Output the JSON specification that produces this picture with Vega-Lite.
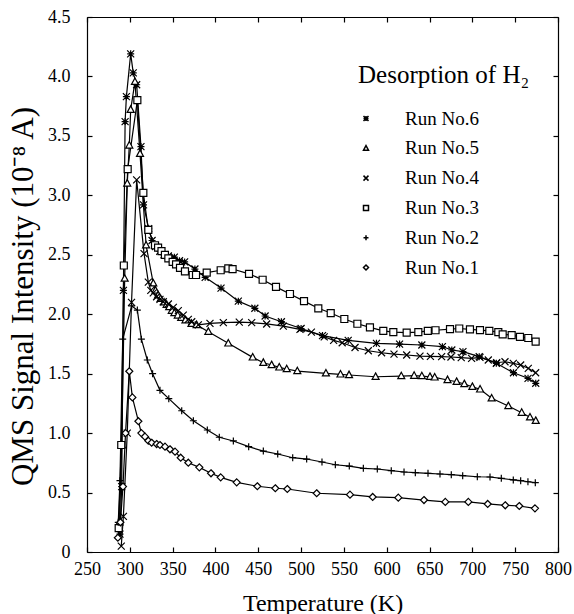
{
  "$schema": "https://vega.github.io/schema/vega-lite/v6.json",
  "width": 471,
  "height": 535,
  "autosize": "none",
  "padding": {"left": 87, "top": 17, "right": 16, "bottom": 62},
  "background": "white",
  "config": {
    "font": "Liberation Serif",
    "view": {"stroke": null},
    "axis": {"grid": false, "domainColor": "black", "domainWidth": 1.2, "tickColor": "black", "tickWidth": 1.2, "labelColor": "black", "titleColor": "black", "labelFont": "Liberation Serif", "titleFont": "Liberation Serif"},
    "legend": {"labelFont": "Liberation Serif", "titleFont": "Liberation Serif", "labelColor": "black", "titleColor": "black"}
  },
  "data": {"values": [
    {"run": "Run No.6", "T": 288.5, "I": 0.15}, {"run": "Run No.6", "T": 290.5, "I": 0.55}, {"run": "Run No.6", "T": 292.5, "I": 2.2}, {"run": "Run No.6", "T": 294.5, "I": 3.62}, {"run": "Run No.6", "T": 296, "I": 3.83}, {"run": "Run No.6", "T": 301, "I": 4.19}, {"run": "Run No.6", "T": 304, "I": 4.03}, {"run": "Run No.6", "T": 308, "I": 3.93}, {"run": "Run No.6", "T": 313, "I": 3.41}, {"run": "Run No.6", "T": 316, "I": 2.92}, {"run": "Run No.6", "T": 322, "I": 2.72}, {"run": "Run No.6", "T": 326, "I": 2.62}, {"run": "Run No.6", "T": 330, "I": 2.57}, {"run": "Run No.6", "T": 335, "I": 2.53}, {"run": "Run No.6", "T": 340, "I": 2.5}, {"run": "Run No.6", "T": 345, "I": 2.49}, {"run": "Run No.6", "T": 352, "I": 2.48}, {"run": "Run No.6", "T": 358, "I": 2.45}, {"run": "Run No.6", "T": 364, "I": 2.44}, {"run": "Run No.6", "T": 376, "I": 2.38}, {"run": "Run No.6", "T": 388, "I": 2.31}, {"run": "Run No.6", "T": 406.5, "I": 2.22}, {"run": "Run No.6", "T": 426.7, "I": 2.11}, {"run": "Run No.6", "T": 446, "I": 2.05}, {"run": "Run No.6", "T": 458, "I": 1.985}, {"run": "Run No.6", "T": 477, "I": 1.937}, {"run": "Run No.6", "T": 500, "I": 1.88}, {"run": "Run No.6", "T": 525, "I": 1.82}, {"run": "Run No.6", "T": 555, "I": 1.78}, {"run": "Run No.6", "T": 588, "I": 1.755}, {"run": "Run No.6", "T": 615, "I": 1.749}, {"run": "Run No.6", "T": 641, "I": 1.741}, {"run": "Run No.6", "T": 665, "I": 1.727}, {"run": "Run No.6", "T": 676, "I": 1.699}, {"run": "Run No.6", "T": 689, "I": 1.685}, {"run": "Run No.6", "T": 708, "I": 1.643}, {"run": "Run No.6", "T": 728, "I": 1.587}, {"run": "Run No.6", "T": 748, "I": 1.508}, {"run": "Run No.6", "T": 765, "I": 1.461}, {"run": "Run No.6", "T": 774, "I": 1.419},

    {"run": "Run No.5", "T": 288, "I": 0.25}, {"run": "Run No.5", "T": 290.5, "I": 0.9}, {"run": "Run No.5", "T": 294, "I": 2.3}, {"run": "Run No.5", "T": 297, "I": 3.1}, {"run": "Run No.5", "T": 299.4, "I": 3.42}, {"run": "Run No.5", "T": 301, "I": 3.72}, {"run": "Run No.5", "T": 306, "I": 3.955}, {"run": "Run No.5", "T": 311.9, "I": 3.35}, {"run": "Run No.5", "T": 319, "I": 2.58}, {"run": "Run No.5", "T": 327.4, "I": 2.26}, {"run": "Run No.5", "T": 330, "I": 2.2}, {"run": "Run No.5", "T": 333, "I": 2.16}, {"run": "Run No.5", "T": 336, "I": 2.13}, {"run": "Run No.5", "T": 340, "I": 2.1}, {"run": "Run No.5", "T": 343, "I": 2.08}, {"run": "Run No.5", "T": 346, "I": 2.06}, {"run": "Run No.5", "T": 349, "I": 2.03}, {"run": "Run No.5", "T": 352, "I": 2.01}, {"run": "Run No.5", "T": 356, "I": 1.99}, {"run": "Run No.5", "T": 360, "I": 1.97}, {"run": "Run No.5", "T": 365, "I": 1.95}, {"run": "Run No.5", "T": 372, "I": 1.92}, {"run": "Run No.5", "T": 378, "I": 1.91}, {"run": "Run No.5", "T": 391.7, "I": 1.853}, {"run": "Run No.5", "T": 415, "I": 1.755}, {"run": "Run No.5", "T": 443.5, "I": 1.637}, {"run": "Run No.5", "T": 455.9, "I": 1.592}, {"run": "Run No.5", "T": 465.6, "I": 1.573}, {"run": "Run No.5", "T": 474.5, "I": 1.553}, {"run": "Run No.5", "T": 483.2, "I": 1.539}, {"run": "Run No.5", "T": 495.6, "I": 1.522}, {"run": "Run No.5", "T": 529, "I": 1.503}, {"run": "Run No.5", "T": 546, "I": 1.494}, {"run": "Run No.5", "T": 556, "I": 1.489}, {"run": "Run No.5", "T": 587, "I": 1.474}, {"run": "Run No.5", "T": 617, "I": 1.48}, {"run": "Run No.5", "T": 632, "I": 1.483}, {"run": "Run No.5", "T": 641, "I": 1.48}, {"run": "Run No.5", "T": 650.5, "I": 1.474}, {"run": "Run No.5", "T": 656, "I": 1.469}, {"run": "Run No.5", "T": 671, "I": 1.447}, {"run": "Run No.5", "T": 681.6, "I": 1.432}, {"run": "Run No.5", "T": 690.6, "I": 1.413}, {"run": "Run No.5", "T": 700, "I": 1.39}, {"run": "Run No.5", "T": 709, "I": 1.368}, {"run": "Run No.5", "T": 722.5, "I": 1.293}, {"run": "Run No.5", "T": 742, "I": 1.228}, {"run": "Run No.5", "T": 757.6, "I": 1.172}, {"run": "Run No.5", "T": 767.3, "I": 1.133}, {"run": "Run No.5", "T": 774, "I": 1.104},

    {"run": "Run No.4", "T": 290, "I": 0.05}, {"run": "Run No.4", "T": 292.5, "I": 0.3}, {"run": "Run No.4", "T": 297, "I": 1.0}, {"run": "Run No.4", "T": 302, "I": 2.1}, {"run": "Run No.4", "T": 308, "I": 3.13}, {"run": "Run No.4", "T": 316.6, "I": 2.51}, {"run": "Run No.4", "T": 321.6, "I": 2.27}, {"run": "Run No.4", "T": 324.5, "I": 2.2}, {"run": "Run No.4", "T": 327.4, "I": 2.18}, {"run": "Run No.4", "T": 331.3, "I": 2.147}, {"run": "Run No.4", "T": 335.2, "I": 2.125}, {"run": "Run No.4", "T": 339.1, "I": 2.105}, {"run": "Run No.4", "T": 345, "I": 2.086}, {"run": "Run No.4", "T": 350.8, "I": 2.058}, {"run": "Run No.4", "T": 356.6, "I": 2.03}, {"run": "Run No.4", "T": 362.4, "I": 1.993}, {"run": "Run No.4", "T": 368.3, "I": 1.957}, {"run": "Run No.4", "T": 372.3, "I": 1.937}, {"run": "Run No.4", "T": 380, "I": 1.91}, {"run": "Run No.4", "T": 393.6, "I": 1.923}, {"run": "Run No.4", "T": 409.2, "I": 1.929}, {"run": "Run No.4", "T": 427.8, "I": 1.934}, {"run": "Run No.4", "T": 442.3, "I": 1.929}, {"run": "Run No.4", "T": 459.8, "I": 1.918}, {"run": "Run No.4", "T": 479.2, "I": 1.9}, {"run": "Run No.4", "T": 498.7, "I": 1.873}, {"run": "Run No.4", "T": 512, "I": 1.85}, {"run": "Run No.4", "T": 527, "I": 1.81}, {"run": "Run No.4", "T": 538, "I": 1.78}, {"run": "Run No.4", "T": 548, "I": 1.76}, {"run": "Run No.4", "T": 563, "I": 1.72}, {"run": "Run No.4", "T": 578.5, "I": 1.693}, {"run": "Run No.4", "T": 594, "I": 1.676}, {"run": "Run No.4", "T": 608.5, "I": 1.665}, {"run": "Run No.4", "T": 623.3, "I": 1.657}, {"run": "Run No.4", "T": 638.8, "I": 1.648}, {"run": "Run No.4", "T": 651, "I": 1.645}, {"run": "Run No.4", "T": 664.1, "I": 1.643}, {"run": "Run No.4", "T": 675, "I": 1.64}, {"run": "Run No.4", "T": 687, "I": 1.635}, {"run": "Run No.4", "T": 699.1, "I": 1.629}, {"run": "Run No.4", "T": 708.9, "I": 1.637}, {"run": "Run No.4", "T": 718.6, "I": 1.615}, {"run": "Run No.4", "T": 728.4, "I": 1.592}, {"run": "Run No.4", "T": 738.1, "I": 1.6}, {"run": "Run No.4", "T": 747.8, "I": 1.587}, {"run": "Run No.4", "T": 756.4, "I": 1.573}, {"run": "Run No.4", "T": 765.3, "I": 1.545}, {"run": "Run No.4", "T": 773.9, "I": 1.508},

    {"run": "Run No.3", "T": 287, "I": 0.2}, {"run": "Run No.3", "T": 290, "I": 0.9}, {"run": "Run No.3", "T": 293, "I": 2.41}, {"run": "Run No.3", "T": 297.5, "I": 3.22}, {"run": "Run No.3", "T": 308.8, "I": 3.8}, {"run": "Run No.3", "T": 315.8, "I": 3.02}, {"run": "Run No.3", "T": 321.6, "I": 2.71}, {"run": "Run No.3", "T": 329.4, "I": 2.58}, {"run": "Run No.3", "T": 333, "I": 2.56}, {"run": "Run No.3", "T": 337, "I": 2.53}, {"run": "Run No.3", "T": 341, "I": 2.5}, {"run": "Run No.3", "T": 345, "I": 2.47}, {"run": "Run No.3", "T": 350, "I": 2.44}, {"run": "Run No.3", "T": 354, "I": 2.42}, {"run": "Run No.3", "T": 358.6, "I": 2.39}, {"run": "Run No.3", "T": 364.4, "I": 2.36}, {"run": "Run No.3", "T": 373.4, "I": 2.33}, {"run": "Run No.3", "T": 377.3, "I": 2.33}, {"run": "Run No.3", "T": 389.8, "I": 2.35}, {"run": "Run No.3", "T": 406.1, "I": 2.37}, {"run": "Run No.3", "T": 415, "I": 2.386}, {"run": "Run No.3", "T": 420, "I": 2.38}, {"run": "Run No.3", "T": 439.2, "I": 2.34}, {"run": "Run No.3", "T": 455.1, "I": 2.29}, {"run": "Run No.3", "T": 470.7, "I": 2.23}, {"run": "Run No.3", "T": 487, "I": 2.17}, {"run": "Run No.3", "T": 503.4, "I": 2.11}, {"run": "Run No.3", "T": 520.1, "I": 2.05}, {"run": "Run No.3", "T": 534.6, "I": 2.01}, {"run": "Run No.3", "T": 550.5, "I": 1.96}, {"run": "Run No.3", "T": 565.7, "I": 1.92}, {"run": "Run No.3", "T": 580.4, "I": 1.89}, {"run": "Run No.3", "T": 596, "I": 1.86}, {"run": "Run No.3", "T": 607.7, "I": 1.85}, {"run": "Run No.3", "T": 623.3, "I": 1.845}, {"run": "Run No.3", "T": 636.9, "I": 1.85}, {"run": "Run No.3", "T": 648, "I": 1.86}, {"run": "Run No.3", "T": 657, "I": 1.865}, {"run": "Run No.3", "T": 673.9, "I": 1.875}, {"run": "Run No.3", "T": 684.7, "I": 1.88}, {"run": "Run No.3", "T": 697.2, "I": 1.873}, {"run": "Run No.3", "T": 708.9, "I": 1.867}, {"run": "Run No.3", "T": 719.8, "I": 1.86}, {"run": "Run No.3", "T": 730.3, "I": 1.85}, {"run": "Run No.3", "T": 735.4, "I": 1.83}, {"run": "Run No.3", "T": 745.9, "I": 1.825}, {"run": "Run No.3", "T": 755.6, "I": 1.81}, {"run": "Run No.3", "T": 765.3, "I": 1.8}, {"run": "Run No.3", "T": 773.9, "I": 1.77},

    {"run": "Run No.2", "T": 286.5, "I": 0.25}, {"run": "Run No.2", "T": 288.5, "I": 0.6}, {"run": "Run No.2", "T": 291.7, "I": 1.79}, {"run": "Run No.2", "T": 302.2, "I": 2.07}, {"run": "Run No.2", "T": 308.8, "I": 2.035}, {"run": "Run No.2", "T": 313.5, "I": 1.79}, {"run": "Run No.2", "T": 320.4, "I": 1.615}, {"run": "Run No.2", "T": 326.6, "I": 1.5}, {"run": "Run No.2", "T": 335.2, "I": 1.36}, {"run": "Run No.2", "T": 345.5, "I": 1.29}, {"run": "Run No.2", "T": 360.6, "I": 1.188}, {"run": "Run No.2", "T": 374.2, "I": 1.104}, {"run": "Run No.2", "T": 390.5, "I": 1.026}, {"run": "Run No.2", "T": 404.5, "I": 0.965}, {"run": "Run No.2", "T": 420.9, "I": 0.934}, {"run": "Run No.2", "T": 438.8, "I": 0.886}, {"run": "Run No.2", "T": 455.9, "I": 0.849}, {"run": "Run No.2", "T": 472.7, "I": 0.824}, {"run": "Run No.2", "T": 490.2, "I": 0.793}, {"run": "Run No.2", "T": 506.5, "I": 0.782}, {"run": "Run No.2", "T": 524.4, "I": 0.757}, {"run": "Run No.2", "T": 540, "I": 0.734}, {"run": "Run No.2", "T": 556.3, "I": 0.723}, {"run": "Run No.2", "T": 572.7, "I": 0.704}, {"run": "Run No.2", "T": 589, "I": 0.698}, {"run": "Run No.2", "T": 605.3, "I": 0.684}, {"run": "Run No.2", "T": 620.2, "I": 0.673}, {"run": "Run No.2", "T": 633.4, "I": 0.667}, {"run": "Run No.2", "T": 648.2, "I": 0.662}, {"run": "Run No.2", "T": 662.2, "I": 0.656}, {"run": "Run No.2", "T": 675.4, "I": 0.65}, {"run": "Run No.2", "T": 688.7, "I": 0.642}, {"run": "Run No.2", "T": 705.8, "I": 0.633}, {"run": "Run No.2", "T": 720.6, "I": 0.631}, {"run": "Run No.2", "T": 733.8, "I": 0.62}, {"run": "Run No.2", "T": 747.8, "I": 0.606}, {"run": "Run No.2", "T": 756.4, "I": 0.6}, {"run": "Run No.2", "T": 764.9, "I": 0.591}, {"run": "Run No.2", "T": 773.5, "I": 0.583},

    {"run": "Run No.1", "T": 286, "I": 0.12}, {"run": "Run No.1", "T": 289, "I": 0.25}, {"run": "Run No.1", "T": 292, "I": 0.55}, {"run": "Run No.1", "T": 295, "I": 1.0}, {"run": "Run No.1", "T": 299.4, "I": 1.52}, {"run": "Run No.1", "T": 303, "I": 1.3}, {"run": "Run No.1", "T": 310, "I": 1.1}, {"run": "Run No.1", "T": 313.5, "I": 1.0}, {"run": "Run No.1", "T": 317.7, "I": 0.97}, {"run": "Run No.1", "T": 321.6, "I": 0.936}, {"run": "Run No.1", "T": 325.5, "I": 0.919}, {"run": "Run No.1", "T": 331.3, "I": 0.908}, {"run": "Run No.1", "T": 335.2, "I": 0.9}, {"run": "Run No.1", "T": 341.1, "I": 0.886}, {"run": "Run No.1", "T": 346.9, "I": 0.864}, {"run": "Run No.1", "T": 352.8, "I": 0.844}, {"run": "Run No.1", "T": 359.4, "I": 0.793}, {"run": "Run No.1", "T": 368.3, "I": 0.751}, {"run": "Run No.1", "T": 381.2, "I": 0.712}, {"run": "Run No.1", "T": 394.8, "I": 0.662}, {"run": "Run No.1", "T": 406.1, "I": 0.628}, {"run": "Run No.1", "T": 424.8, "I": 0.586}, {"run": "Run No.1", "T": 448.9, "I": 0.553}, {"run": "Run No.1", "T": 469.9, "I": 0.536}, {"run": "Run No.1", "T": 483.9, "I": 0.53}, {"run": "Run No.1", "T": 518.2, "I": 0.494}, {"run": "Run No.1", "T": 557.1, "I": 0.482}, {"run": "Run No.1", "T": 583.6, "I": 0.463}, {"run": "Run No.1", "T": 613.5, "I": 0.457}, {"run": "Run No.1", "T": 643.5, "I": 0.437}, {"run": "Run No.1", "T": 668.4, "I": 0.421}, {"run": "Run No.1", "T": 695.3, "I": 0.421}, {"run": "Run No.1", "T": 717.9, "I": 0.404}, {"run": "Run No.1", "T": 738.4, "I": 0.393}, {"run": "Run No.1", "T": 754.8, "I": 0.387}, {"run": "Run No.1", "T": 773.1, "I": 0.367}
  ]},
  "layer": [
    {
      "mark": {"type": "line", "color": "black", "strokeWidth": 1.2},
      "encoding": {
        "detail": {"field": "run", "type": "nominal"},
        "x": {"field": "T", "type": "quantitative", "scale": {"domain": [250, 800], "nice": false, "zero": false},
          "axis": {"orient": "bottom", "values": [250, 300, 350, 400, 450, 500, 550, 600, 650, 700, 750, 800], "tickSize": -5, "labelPadding": 13, "labelFontSize": 18, "labelFlush": false, "labelOverlap": false, "title": "Temperature (K)", "titleFontSize": 24, "titleFontWeight": "normal", "titleY": 51, "titleBaseline": "middle"}},
        "y": {"field": "I", "type": "quantitative", "scale": {"domain": [0, 4.5], "nice": false},
          "axis": {"orient": "left", "values": [0, 0.5, 1, 1.5, 2, 2.5, 3, 3.5, 4, 4.5], "tickSize": -5, "labelPadding": 22, "labelFontSize": 18, "labelOverlap": false, "labelExpr": "datum.value == 0 ? '0' : format(datum.value, '.1f')", "title": "QMS Signal Intensity  (10⁻⁸  A)", "titleFontSize": 31, "titleFontWeight": "normal", "titleX": -64, "titleY": 279, "titleBaseline": "middle"}}
      }
    },
    {
      "mark": {"type": "point", "filled": true, "fill": "white", "stroke": "black", "strokeWidth": 1.2, "size": 49, "opacity": 1},
      "encoding": {
        "x": {"field": "T", "type": "quantitative",
          "axis": {"orient": "top", "values": [250, 300, 350, 400, 450, 500, 550, 600, 650, 700, 750, 800], "tickSize": -5, "labels": false, "title": null}},
        "y": {"field": "I", "type": "quantitative",
          "axis": {"orient": "right", "values": [0, 0.5, 1, 1.5, 2, 2.5, 3, 3.5, 4, 4.5], "tickSize": -5, "labels": false, "title": null}},
        "shape": {"field": "run", "type": "nominal",
          "scale": {"domain": ["Run No.6", "Run No.5", "Run No.4", "Run No.3", "Run No.2", "Run No.1"],
            "range": ["M-1,-1L1,1M-1,1L1,-1M-1,0L1,0M0,-1L0,1", "M0,-1.1L1,0.75L-1,0.75Z", "M-1,-1L1,1M-1,1L1,-1", "M-1,-1L1,-1L1,1L-1,1Z", "M-1,0L1,0M0,-1L0,1", "M0,-1L1,0L0,1L-1,0Z"]},
          "legend": {"title": "Desorption of H₂", "orient": "none", "legendX": 271, "legendY": 46, "titleFontSize": 25, "titleFontWeight": "normal", "titlePadding": 21, "labelFontSize": 19, "labelOffset": 29.5, "symbolOffset": -1.5, "symbolSize": 25, "rowPadding": 9.8, "padding": 0,
            "encode": {"symbols": {
              "stroke": {"value": "black"},
              "strokeWidth": {"value": 1.2},
              "shape": {"value": {"signal": "datum.value === 'Run No.6' ? 'M-1,-1L1,1M-1,1L1,-1M0,-1L0,1M-2.8,0L6.8,0' : datum.value === 'Run No.5' ? 'M-2.8,0.75L6.8,0.75M0,-1.1L1,0.75L-1,0.75Z' : datum.value === 'Run No.4' ? 'M-1,-1L1,1M-1,1L1,-1M-2.8,0L6.8,0' : datum.value === 'Run No.3' ? 'M-2.8,0L-1,0M1,0L6.8,0M-1,-1L1,-1L1,1L-1,1Z' : datum.value === 'Run No.2' ? 'M-2.8,0L6.8,0M0,-1L0,1' : 'M-2.8,0L-1,0M1,0L6.8,0M0,-1L1,0L0,1L-1,0Z'"}}}}}}
      }
    }
  ],
  "resolve": {"axis": {"x": "independent", "y": "independent"}}
}
